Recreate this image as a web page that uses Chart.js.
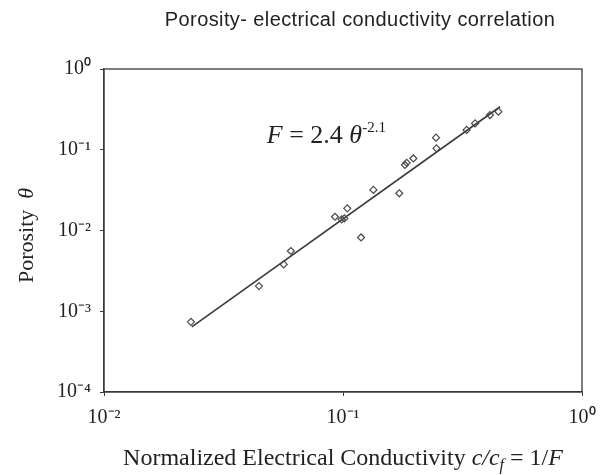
<!DOCTYPE html>
<html lang="en">
<head>
  <meta charset="UTF-8" />
  <title>Porosity- electrical conductivity correlation</title>
  <script src="https://cdn.jsdelivr.net/npm/chart.js"></script>
  <style>
    html, body { margin: 0; padding: 0; background: #fff; }
    #wrap { width: 615px; height: 475px; }
  </style>
</head>
<body>
  <div id="wrap"><canvas id="chart" width="615" height="475"></canvas></div>

  <script>
    // measured points (normalized conductivity vs porosity)
    const condX = [0.0231, 0.0445, 0.0565, 0.0605, 0.0926, 0.0987, 0.1013, 0.1042, 0.119, 0.134,
                   0.172, 0.1817, 0.1847, 0.197, 0.245, 0.246, 0.329, 0.357, 0.412, 0.447];
    const porY  = [0.00074, 0.00205, 0.0038, 0.00557, 0.0148, 0.01375, 0.0141, 0.0188, 0.0082, 0.0318,
                   0.0289, 0.0648, 0.069, 0.078, 0.141, 0.104, 0.176, 0.212, 0.269, 0.296];

    // fitted line end points
    const fitX = [0.0233, 0.454];
    const fitY = [0.00064, 0.341];

    const xTickValues = [0.01, 0.1, 1];
    const xTickLabels = ['10⁻²', '10⁻¹', '10⁰'];
    const yTickValues = [0.0001, 0.001, 0.01, 0.1, 1];
    const yTickLabels = ['10⁻⁴', '10⁻³', '10⁻²', '10⁻¹', '10⁰'];

    const ink = '#3a3a3a';
    const serif = '"Liberation Serif", "Times New Roman", serif';

    function toXY(xs, ys) {
      return xs.map((x, i) => ({ x: x, y: ys[i] }));
    }

    function tickLabel(values, labels) {
      return v => {
        const i = values.findIndex(t => Math.abs(Math.log10(t) - Math.log10(v)) < 1e-6);
        return i >= 0 ? labels[i] : '';
      };
    }

    // draw mixed-style text pieces left to right
    function drawPieces(ctx, pieces, x, y) {
      pieces.forEach(p => {
        ctx.font = p.font;
        ctx.fillText(p.t, x, y + (p.dy || 0));
        x += ctx.measureText(p.t).width;
      });
    }
    function piecesWidth(ctx, pieces) {
      let w = 0;
      pieces.forEach(p => { ctx.font = p.font; w += ctx.measureText(p.t).width; });
      return w;
    }

    const decorPlugin = {
      id: 'decor',
      afterDraw(chart) {
        const ctx = chart.ctx;
        const a = chart.chartArea;
        const xs = chart.scales.x, ys = chart.scales.y;
        ctx.save();

        // frame
        ctx.strokeStyle = ink;
        ctx.lineWidth = 1.3;
        ctx.strokeRect(a.left, a.top, a.right - a.left, a.bottom - a.top);

        ctx.fillStyle = '#222';
        ctx.textBaseline = 'alphabetic';

        // title
        ctx.font = '20px "Liberation Sans", Arial, sans-serif';
        ctx.letterSpacing = '0.4px';
        ctx.textAlign = 'center';
        ctx.fillText('Porosity- electrical conductivity correlation', a.left + (a.right - a.left) / 2 + 17, 26);
        ctx.letterSpacing = '0px';

        // equation
        ctx.textAlign = 'left';
        const eq = [
          { t: 'F', font: 'italic 26px ' + serif },
          { t: ' = 2.4 ', font: '26px ' + serif },
          { t: 'θ', font: 'italic 26px ' + serif },
          { t: '-2.1', font: '15px ' + serif, dy: -11 }
        ];
        drawPieces(ctx, eq, xs.getPixelForValue(0.048), ys.getPixelForValue(0.167) + 11);

        // x axis title
        const xt = [
          { t: 'Normalized Electrical Conductivity ', font: '24px ' + serif },
          { t: 'c/c', font: 'italic 24px ' + serif },
          { t: 'f', font: 'italic 16px ' + serif, dy: 5 },
          { t: ' = 1/', font: '24px ' + serif },
          { t: 'F', font: 'italic 24px ' + serif }
        ];
        const w = piecesWidth(ctx, xt);
        drawPieces(ctx, xt, a.left + (a.right - a.left) / 2 - w / 2, 465);

        // y axis title
        ctx.translate(33, a.top + (a.bottom - a.top) / 2 + 5);
        ctx.rotate(-Math.PI / 2);
        const yt = [
          { t: 'Porosity  ', font: '22px ' + serif },
          { t: 'θ', font: 'italic 22px ' + serif }
        ];
        drawPieces(ctx, yt, -piecesWidth(ctx, yt) / 2, 0);

        ctx.restore();
      }
    };

    new Chart(document.getElementById('chart'), {
      type: 'scatter',
      data: {
        datasets: [
          {
            label: 'fit',
            data: toXY(fitX, fitY),
            showLine: true,
            borderColor: ink,
            borderWidth: 1.6,
            pointRadius: 0,
            order: 2
          },
          {
            label: 'data',
            data: toXY(condX, porY),
            pointStyle: 'rectRot',
            pointRadius: 3.5,
            borderWidth: 1.2,
            borderColor: '#4a4a4a',
            backgroundColor: 'rgba(255,255,255,0)',
            order: 1
          }
        ]
      },
      options: {
        responsive: false,
        animation: false,
        layout: { padding: { left: 0, right: 33, top: 69, bottom: 0 } },
        plugins: {
          legend: { display: false },
          tooltip: { enabled: false }
        },
        scales: {
          x: {
            type: 'logarithmic',
            min: 0.01,
            max: 1,
            afterBuildTicks: s => { s.ticks = xTickValues.map(v => ({ value: v })); },
            afterFit: s => { s.height = 83; },
            grid: { drawOnChartArea: false, tickLength: 4, color: ink },
            border: { color: ink, width: 1.3 },
            ticks: {
              callback: tickLabel(xTickValues, xTickLabels),
              color: '#222',
              padding: 10,
              maxRotation: 0,
              autoSkip: false,
              font: { family: serif, size: 20 }
            }
          },
          y: {
            type: 'logarithmic',
            min: 0.0001,
            max: 1,
            afterBuildTicks: s => { s.ticks = yTickValues.map(v => ({ value: v })); },
            afterFit: s => { s.width = 104; },
            grid: { drawOnChartArea: false, tickLength: 4, color: ink },
            border: { color: ink, width: 1.3 },
            ticks: {
              callback: tickLabel(yTickValues, yTickLabels),
              color: '#222',
              padding: 9,
              autoSkip: false,
              font: { family: serif, size: 20 }
            }
          }
        }
      },
      plugins: [decorPlugin]
    });
  </script>
</body>
</html>
